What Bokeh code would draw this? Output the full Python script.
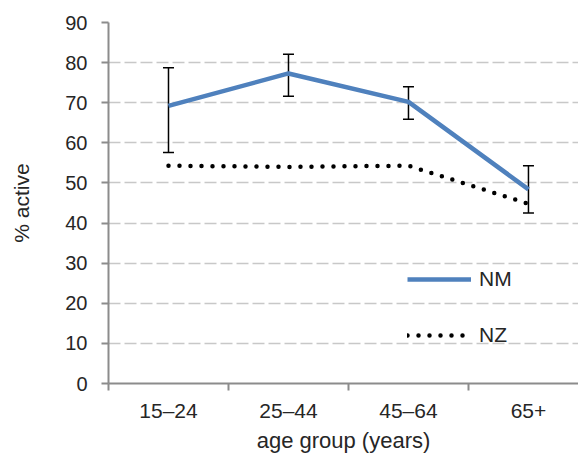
from bokeh.plotting import figure
from bokeh.models import (Range1d, FixedTicker, Whisker, ColumnDataSource, Legend,
                          LegendItem, TeeHead)
from bokeh.embed import file_html
from bokeh.resources import INLINE

categories = ["15–24", "25–44", "45–64", "65+"]
nm_values = [69.2, 77.3, 70.2, 48.4]
nm_upper = [78.7, 82.1, 74.0, 54.3]
nm_lower = [57.6, 71.6, 65.9, 42.5]
nz_values = [54.3, 54.0, 54.3, 44.8]
y_ticks = [0, 10, 20, 30, 40, 50, 60, 70, 80, 90]

xs = [i + 0.5 for i in range(len(categories))]
bounds = [i for i in range(len(categories) + 1)]
FONT = "Liberation Sans"
TXT = "#262626"
AX = "#8c8c8c"

p = figure(width=578, height=455, output_backend="svg", toolbar_location=None,
           x_range=Range1d(0, 3.917), y_range=Range1d(0, 90),
           min_border_left=108, min_border_right=0, min_border_top=22, min_border_bottom=69)
p.outline_line_color = None
p.background_fill_color = "white"

# x axis: labels at category centres, tick marks at category boundaries
p.xaxis.ticker = FixedTicker(ticks=xs, minor_ticks=bounds)
p.xaxis.major_label_overrides = {x: c for x, c in zip(xs, categories)}
p.xaxis.major_label_text_font = FONT
p.xaxis.major_label_text_font_size = "21px"
p.xaxis.major_label_text_color = TXT
p.xaxis.major_label_standoff = 8
p.xaxis.major_tick_line_color = None
p.xaxis.major_tick_out = 0
p.xaxis.major_tick_in = 0
p.xaxis.minor_tick_out = 7
p.xaxis.minor_tick_in = 0
p.xaxis.minor_tick_line_color = AX
p.xaxis.minor_tick_line_width = 2
p.xaxis.axis_line_color = AX
p.xaxis.axis_line_width = 2
p.xaxis.axis_label = "age group (years)"
p.xaxis.axis_label_text_font = FONT
p.xaxis.axis_label_text_font_style = "normal"
p.xaxis.axis_label_text_font_size = "22px"
p.xaxis.axis_label_text_color = TXT
p.xaxis.axis_label_standoff = 3

p.yaxis.ticker = FixedTicker(ticks=y_ticks)
p.yaxis.major_label_text_font = FONT
p.yaxis.major_label_text_font_size = "20px"
p.yaxis.major_label_text_color = TXT
p.yaxis.major_tick_out = 7
p.yaxis.major_tick_in = 0
p.yaxis.minor_tick_line_color = None
p.yaxis.axis_line_color = AX
p.yaxis.axis_line_width = 2
p.yaxis.major_tick_line_color = AX
p.yaxis.major_tick_line_width = 2
p.yaxis.major_label_standoff = 14
p.yaxis.axis_label = "% active"
p.yaxis.axis_label_text_font = FONT
p.yaxis.axis_label_text_font_style = "normal"
p.yaxis.axis_label_text_font_size = "21px"
p.yaxis.axis_label_text_color = TXT
p.yaxis.axis_label_standoff = 29

p.xgrid.grid_line_color = None
p.ygrid.ticker = FixedTicker(ticks=y_ticks[1:])
p.ygrid.grid_line_color = "#c8c8c8"
p.ygrid.grid_line_width = 1.5
p.ygrid.grid_line_dash = "12 4"

src = ColumnDataSource(dict(x=xs, nm=nm_values, up=nm_upper, lo=nm_lower, nz=nz_values))

nz_r = p.line("x", "nz", source=src, line_color="black", line_width=4.5,
              line_dash="0 11", line_cap="round")
nm_r = p.line("x", "nm", source=src, line_color="#4f81bd", line_width=4.5)

w = Whisker(base="x", upper="up", lower="lo", source=src, line_color="black", line_width=1.5,
            upper_head=TeeHead(size=11, line_color="black", line_width=1.5),
            lower_head=TeeHead(size=11, line_color="black", line_width=1.5))
p.add_layout(w)

legend = Legend(items=[LegendItem(label="NM", renderers=[nm_r]),
                       LegendItem(label="NZ", renderers=[nz_r])],
                location=(299, 36), orientation="vertical",
                glyph_width=64, glyph_height=20, label_height=20,
                spacing=32, padding=0, margin=0, label_standoff=8,
                border_line_alpha=0, background_fill_alpha=0,
                label_text_font=FONT, label_text_font_size="21px", label_text_color=TXT)
p.add_layout(legend)

open("out.html", "w").write(file_html(p, INLINE))
